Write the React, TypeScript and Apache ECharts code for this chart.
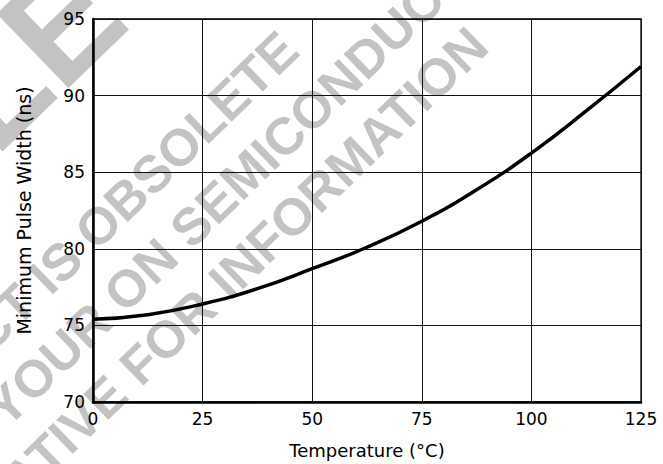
import React, { useEffect, useRef } from 'react';
import * as echarts from 'echarts';

// ---- data ----
const temperatures = [0, 12.5, 25, 37.5, 50, 62.5, 75, 87.5, 100, 112.5, 125];
const pulseWidths = [75.4, 75.7, 76.4, 77.4, 78.7, 80.1, 81.8, 83.85, 86.25, 89.0, 91.9];
const xTitle = 'Temperature (°C)';
const yTitle = 'Minimum Pulse Width (ns)';

// ---- watermark texts ----
const watermarkTexts = [
  'PRODUCT IS OBSOLETE',
  'CONTACT YOUR ON SEMICONDUCTOR',
  'REPRESENTATIVE FOR INFORMATION',
];
const bigWatermarkText = 'LE';

// layout of the watermark: a character index of each line and where its centre sits
const watermarkLayout = [
  { anchorIndex: 18, x: 277, y: 53 },
  { anchorIndex: 9, x: 35, y: 377 },
  { anchorIndex: 12, x: 82, y: 420 },
];

// Arial Bold advance widths (per 1000 em)
const W: Record<string, number> = {
  A: 722, B: 722, C: 722, D: 722, E: 667, F: 611, I: 278, L: 611, M: 833,
  N: 722, O: 778, P: 667, R: 722, S: 667, T: 611, U: 722, V: 667, Y: 667, ' ': 278,
};

const WM_COLOR = '#c3c3c3';
const WM_FONT = 52;
const WM_ANGLE = (44 * Math.PI) / 180;
const WM_FAMILY = 'Liberation Sans';

function wmStyle(text: string, size: number, align: string) {
  return {
    text,
    fill: WM_COLOR,
    fontSize: size,
    fontWeight: 'bold',
    fontFamily: WM_FAMILY,
    align,
    verticalAlign: 'middle',
  };
}

function buildWatermark(): any[] {
  const out: any[] = [];
  const cos = Math.cos(WM_ANGLE);
  const sin = Math.sin(WM_ANGLE);
  watermarkTexts.forEach((text, li) => {
    const lay = watermarkLayout[li];
    const chars = text.split('');
    let acc = 0;
    let sk = 0;
    chars.forEach((c, i) => {
      const adv = ((W[c] ?? 667) / 1000) * WM_FONT;
      if (i === lay.anchorIndex) sk = acc + adv / 2;
      acc += adv;
    });
    const d = acc / 2 - sk;
    out.push({
      type: 'text',
      x: lay.x + d * cos,
      y: lay.y - d * sin,
      rotation: WM_ANGLE,
      silent: true,
      z: -10,
      style: wmStyle(text, WM_FONT, 'center'),
    });
  });
  out.push({
    type: 'text',
    x: 97,
    y: -12,
    rotation: WM_ANGLE,
    silent: true,
    z: -10,
    style: wmStyle(bigWatermarkText, 150, 'right'),
  });
  return out;
}

const FONT = '"DejaVu Sans", sans-serif';

export default function App() {
  const ref = useRef<HTMLDivElement>(null);
  useEffect(() => {
    document.body.style.margin = '0';
    if (!ref.current) return;
    const chart = echarts.init(ref.current, undefined, { renderer: 'svg' });
    const data = temperatures.map((t, i) => [t, pulseWidths[i]]);
    chart.setOption({
      animation: false,
      backgroundColor: '#fff',
      graphic: buildWatermark(),
      grid: {
        left: 93,
        right: 22,
        top: 19,
        bottom: 61,
        show: true,
        borderColor: '#000',
        borderWidth: 1.3,
        backgroundColor: 'transparent',
      },
      xAxis: {
        type: 'value',
        min: 0,
        max: 125,
        interval: 25,
        name: xTitle,
        nameLocation: 'middle',
        nameGap: 39,
        nameTextStyle: { color: '#000', fontFamily: FONT, fontSize: 18 },
        axisLine: { show: true, lineStyle: { color: '#000', width: 2.5 } },
        axisTick: { show: false },
        axisLabel: { color: '#000', fontFamily: FONT, fontSize: 17, margin: 8 },
        splitLine: { show: true, lineStyle: { color: '#111', width: 1 } },
      },
      yAxis: {
        type: 'value',
        min: 70,
        max: 95,
        interval: 5,
        name: yTitle,
        nameLocation: 'middle',
        nameGap: 60,
        nameTextStyle: { color: '#000', fontFamily: FONT, fontSize: 19 },
        axisLine: { show: true, lineStyle: { color: '#000', width: 2.5 } },
        axisTick: { show: false },
        axisLabel: { color: '#000', fontFamily: FONT, fontSize: 17, margin: 8 },
        splitLine: { show: true, lineStyle: { color: '#111', width: 1 } },
      },
      series: [
        {
          type: 'line',
          data,
          smooth: true,
          showSymbol: false,
          symbol: 'none',
          z: 5,
          lineStyle: { color: '#000', width: 3.5 },
        },
      ],
    });
    return () => chart.dispose();
  }, []);
  return (
    <div
      ref={ref}
      style={{ position: 'fixed', left: 0, top: 0, width: 663, height: 464 }}
    />
  );
}
